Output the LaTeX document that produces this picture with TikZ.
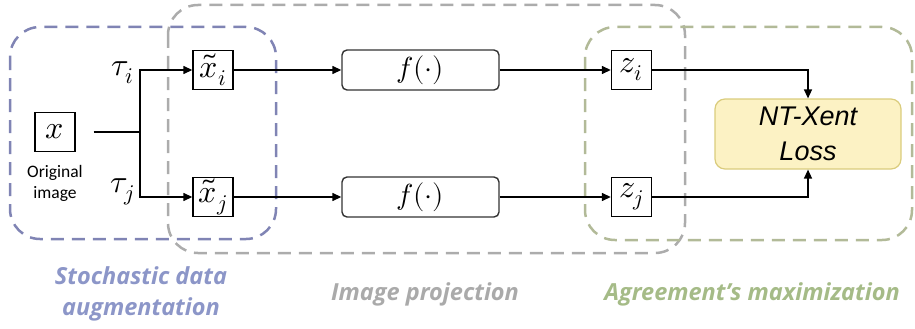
\documentclass[tikz,border=0pt]{standalone}
\usepackage{fontspec}
\usepackage{unicode-math}
\usetikzlibrary{arrows.meta}
\newfontfamily\capfont{Open Sans}
\newfontfamily\notefont{Carlito}
\newfontfamily\lossfont{Liberation Sans}
\definecolor{augblue}{RGB}{140,150,200}
\definecolor{projgray}{RGB}{170,170,170}
\definecolor{agreegreen}{RGB}{165,187,135}
\definecolor{augline}{RGB}{128,132,180}
\definecolor{projline}{RGB}{172,172,172}
\definecolor{agreeline}{RGB}{178,186,152}
\definecolor{lossfill}{RGB}{252,242,196}
\definecolor{lossdraw}{RGB}{218,204,125}
\begin{document}
\begin{tikzpicture}[x=1pt,y=-1pt,
  conn/.style={line width=1.4pt, draw=black},
  arr/.style={conn, -{Triangle[length=9pt,width=8pt]}},
  var/.style={draw, line width=1.4pt, minimum width=40pt, minimum height=39pt,
    inner sep=0pt, font=\fontsize{32}{36}\selectfont},
  enc/.style={draw=black!80, fill=white, rounded corners=5pt, line width=1.4pt,
    minimum width=157pt, minimum height=40pt, inner sep=0pt,
    font=\fontsize{29}{32}\selectfont},
  loss/.style={draw=lossdraw, fill=lossfill, rounded corners=10pt, line width=1.2pt,
    minimum width=186pt, minimum height=70pt, inner sep=0pt, align=center,
    font=\lossfont\itshape\fontsize{27}{35}\selectfont},
  region/.style={line width=2.5pt, dash pattern=on 13pt off 8pt, rounded corners=30pt},
  caption/.style={font=\capfont\bfseries\itshape\fontsize{23.5}{31}\selectfont, align=center},
  note/.style={font=\notefont\fontsize{17.5}{21}\selectfont, align=center},
  tlabel/.style={font=\fontsize{32}{36}\selectfont, inner sep=0pt},
]
\useasboundingbox (0,0) rectangle (915,329);

% dashed stage outlines
\draw[region, draw=augline] (10,27) rectangle (276,239);
\draw[region, draw=projline] (168,5) rectangle (685,253);
\draw[region, draw=agreeline] (585,27) rectangle (912,240);

% variables and blocks
\node[var] (x) at (55,132) {$x$};
\node[note] (orig) at (55,183) {Original\\image};
\node[var] (xi) at (213,70) {$\tilde{x}_i$};
\node[var] (xj) at (213,197) {$\tilde{x}_j$};
\node[enc] (fi) at (420.5,70) {$f(\cdot)$};
\node[enc] (fj) at (420.5,197) {$f(\cdot)$};
\node[var] (zi) at (631.5,70) {$z_i$};
\node[var] (zj) at (631.5,197) {$z_j$};
\node[loss] (nt) at (808,134) {NT-Xent\\Loss};

% augmentation labels
\node[tlabel] (ti) at (123,73) {$\tau_i$};
\node[tlabel] (tj) at (123,192) {$\tau_j$};

% connectors
\coordinate (split) at (140,132);
\draw[conn] ([xshift=18pt]x.east) -- (split);
\draw[arr] (split) |- (xi.west);
\draw[arr] (split) |- (xj.west);
\draw[arr] (xi) -- (fi);
\draw[arr] (xj) -- (fj);
\draw[arr] (fi) -- (zi);
\draw[arr] (fj) -- (zj);
\draw[arr] (zi.east) -| (nt.north);
\draw[arr] (zj.east) -| (nt.south);

% stage captions
\node[caption, text=augblue] (capa) at (141,294) {Stochastic data\\augmentation};
\node[caption, text=projgray] (capb) at (425,294) {Image projection};
\node[caption, text=agreegreen] (capc) at (752,294) {Agreement’s maximization};
\end{tikzpicture}
\end{document}
